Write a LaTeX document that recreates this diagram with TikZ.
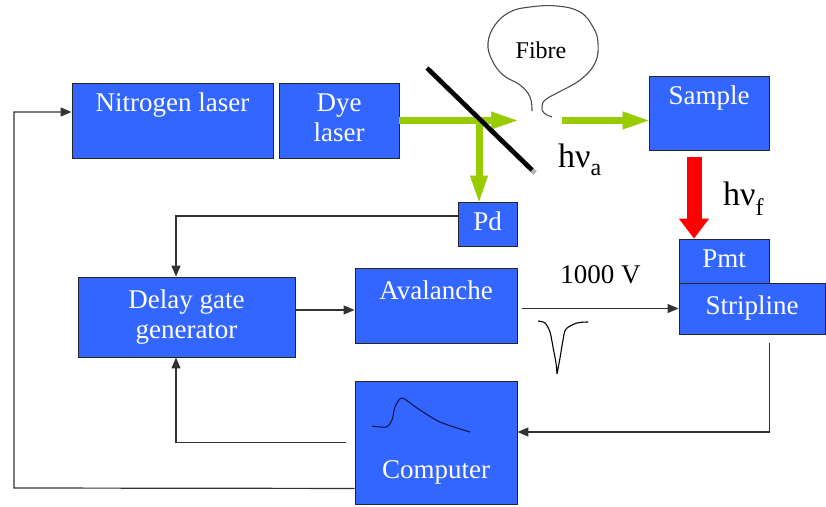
\documentclass[tikz,border=0pt]{standalone}
\usepackage{fontspec}
\setmainfont{Liberation Serif}
\usepackage{xcolor}
\usetikzlibrary{positioning,arrows.meta,calc}
\definecolor{boxblue}{RGB}{51,102,255}
\definecolor{beamgreen}{RGB}{153,204,0}
\definecolor{beamedge}{RGB}{95,115,10}
\definecolor{wiregray}{RGB}{50,50,50}
\definecolor{tracenavy}{RGB}{20,20,80}

\begin{document}
\begin{tikzpicture}[
          x=1pt, y=-1pt,
          unit/.style={draw=black!85, line width=0.9pt, fill=boxblue, text=white, align=center, inner sep=0pt, font=\fontsize{27}{30}\selectfont},
          wire/.style={-{Triangle[length=11pt,width=9pt]}, line width=1.2pt, draw=wiregray},
          beam/.style={draw=beamgreen, line width=7pt, -{Triangle[length=26pt,width=18pt,line width=0.6pt]}},
          glow/.style={draw=red, line width=15pt, -{Triangle[length=20pt,width=29pt]}},
          tag/.style={inner sep=0pt, font=\fontsize{34}{38}\selectfont}
      ]
        \useasboundingbox (0,0) rectangle (826,506);
        \node[unit, minimum width=201pt, minimum height=75pt] (nitro) at (172.5,120.5) {Nitrogen laser\strut\\\strut};
        \node[unit, minimum width=120pt, minimum height=75pt] (dye) at (339,120.5) {Dye\strut\\laser\strut};
        \node[unit, minimum width=120pt, minimum height=74pt] (sample) at (709,113) {Sample\strut\\\strut};
        \node[unit, minimum width=59pt, minimum height=44pt] (pd) at (487.5,224) {Pd\strut};
        \node[unit, minimum width=90pt, minimum height=44pt] (pmt) at (724,261) {Pmt\strut};
        \node[unit, minimum width=146pt, minimum height=51pt] (strip) at (752,308.5) {Stripline\strut};
        \node[unit, minimum width=217pt, minimum height=80pt] (delay) at (186.5,317) {Delay gate\strut\\generator\strut};
        \node[unit, minimum width=162pt, minimum height=75pt] (aval) at (436,305.5) {Avalanche\strut\\[-6pt]\strut};
        \node[unit, minimum width=162pt, minimum height=123pt] (comp) at (436,442.5) {\strut\\\strut\\Computer\strut};
        % optical path
        \coordinate (hit) at (479,120.5);
        \coordinate (fibreIn) at (517,120.5);
        \coordinate (fibreOut) at (562,120.5);
        \draw[beam] (hit) -- (hit |- pd.north);
        \draw[beam] (dye.east) -- (fibreIn);
        \draw[beam] (fibreOut) -- ([yshift=-7.5pt]sample.west);
        \draw[glow] ($(sample.south)+(-15,7)$) -- ([xshift=-30pt]pmt.north);
        \draw[line width=5pt, black!30] (430,71) -- (535,173);
        \draw[line width=4.5pt] (427,68) -- (532,170);
        \draw[gray!60!black, line width=1.1pt] plot[smooth, tension=0.7] coordinates {(532,111) (530,97) (520,85) (503,75) (492,60) (488,43) (495,25) (510,12) (530,7) (557,6) (580,12) (593,27) (598,43) (595,63) (580,80) (557,93) (545,100) (542,107) (544,113) (552,117)};
        \node[inner sep=0pt, font=\fontsize{24}{28}\selectfont] (fibre) at (541,50) {Fibre};
        \node[tag, anchor=base west] (hva) at (558,167) {hν\raisebox{-8pt}{\fontsize{24}{26}\selectfont a}};
        \node[tag, anchor=base west] (hvf) at (723,205) {hν\raisebox{-10pt}{\fontsize{24}{26}\selectfont f}};
        % electronics
        \coordinate (loopL) at (14,488);
        \draw[wire] ([yshift=16pt]comp.south west) -- (loopL) |- ([yshift=8.5pt]nitro.west);
        \draw[wire] ([yshift=8pt]pd.west) -| ([xshift=-10.5pt]delay.north);
        \draw[wire] ($(delay.east)+(0,-7)$) -- ($(aval.west)+(0,4.5)$);
        \draw[wire] ($(aval.east)+(5,3)$) -- (strip.west) node[midway, above=24pt, inner sep=0pt, text=black, font=\fontsize{27}{30}\selectfont] (volt) {1000 V};
        \draw[wire] ($(pmt.east |- strip.south)+(0,9)$) |- ($(comp.east)+(0,-10.5)$);
        \draw[wire] ($(comp.west)+(-9,0)$) -| ([xshift=-10.5pt]delay.south);
        % signal sketches
        \draw[line width=1.1pt] plot[smooth] coordinates {(538,321) (545,323) (550,332) (553,347) (556,363) (557,374)}
              plot[smooth] coordinates {(557,374) (560,358) (563,340) (566,329) (577,323) (588,322)};
        \draw[tracenavy, line width=1.1pt] plot[smooth] coordinates {(372,426) (386,427) (392,420) (395,407) (402,398) (417,408) (440,422) (470,432)};
      \end{tikzpicture}
\end{document}
